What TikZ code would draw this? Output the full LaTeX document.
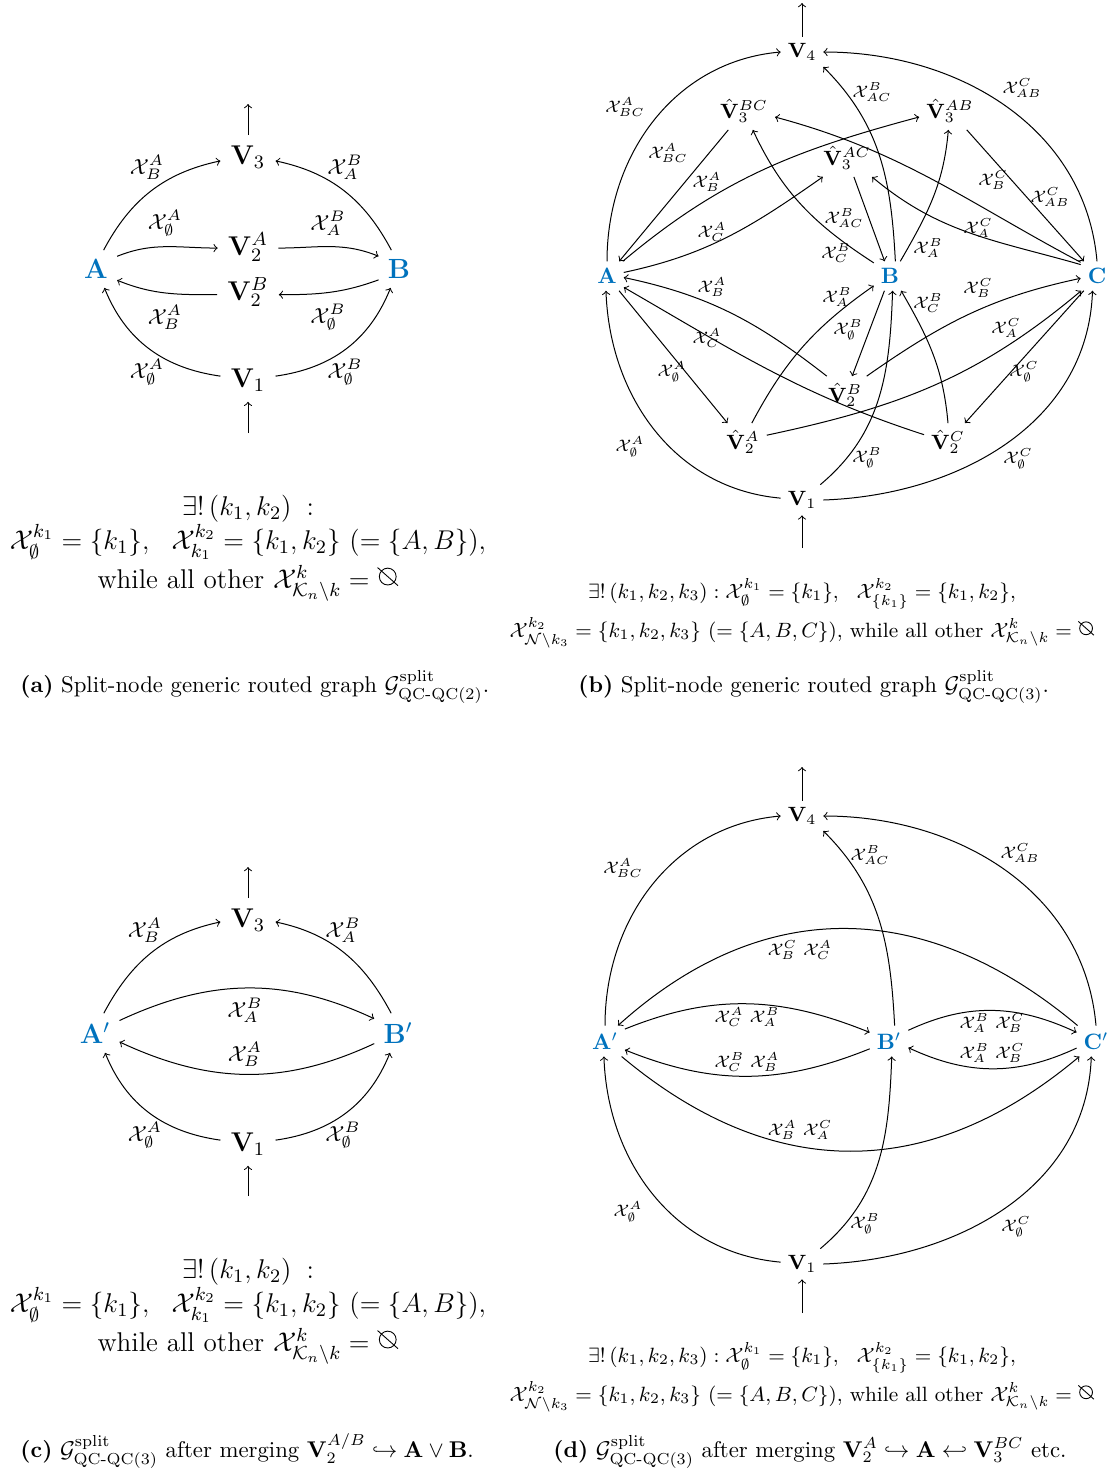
\RequirePackage{fix-cm}
\documentclass[tikz,border=0pt]{standalone}
\usepackage{amsmath}
\usepackage{graphicx}
\definecolor{myblue}{RGB}{0,114,189}
\newcommand{\nul}{\mathord{\tikz[baseline=0pt,x=1ex,y=1ex,line width=0.4pt]{\draw (0.9,0.98) circle (0.72); \draw (0.03,1.75) -- (1.78,0.2);}}}
\newcommand{\X}{\mathcal{X}}
\tikzset{
  arr/.style={->,line width=0.45pt},
  vnodea/.style={inner sep=4.5pt,font=\fontsize{12.2}{14}\selectfont},
  bluea/.style={inner sep=4pt,text=myblue,font=\fontsize{12.5}{14}\selectfont},
  laba/.style={inner sep=0pt,font=\fontsize{9.8}{12}\selectfont},
  vnodeb/.style={inner sep=3pt,font=\fontsize{9.3}{11}\selectfont},
  blueb/.style={inner sep=3pt,text=myblue,font=\fontsize{10}{12}\selectfont},
  labb/.style={inner sep=0pt,font=\fontsize{7.5}{9}\selectfont},
  frma/.style={inner sep=0pt,anchor=base,font=\fontsize{12.2}{14}\selectfont},
  frmb/.style={inner sep=0pt,anchor=base,font=\fontsize{9.3}{11}\selectfont},
  capt/.style={inner sep=0pt,anchor=base west,font=\fontsize{10.25}{12}\selectfont}
}
\begin{document}
\begin{tikzpicture}[x=0.45pt,y=0.45pt]
\useasboundingbox (0,0) rectangle (1110,-1475);

% ================= Panel (a) =================
\node[vnodea] (aV3) at (248,-157) {$\mathbf{V}_3$};
\node[vnodea] (aV2A) at (248,-247) {$\mathbf{V}_2^A$};
\node[vnodea] (aV2B) at (248,-292) {$\mathbf{V}_2^B$};
\node[bluea] (aA) at (96,-269) {$\mathbf{A}$};
\node[bluea] (aB) at (399,-269) {$\mathbf{B}$};
\node[vnodea] (aV1) at (248,-380) {$\mathbf{V}_1$};
\coordinate (aTop) at (248,-104);
\coordinate (aBot) at (248,-433);
\draw[arr] (aV3) -- (aTop);
\draw[arr] (aBot) -- (aV1);
\draw[arr] (aA.68) to[out=62,in=192] (aV3.188);
\draw[arr] (aB.112) to[out=118,in=-12] (aV3.-8);
\draw[arr] (aA.31) to[out=22,in=180] (aV2A.182);
\draw[arr] (aV2A.-2) to[out=0,in=158] (aB.148);
\draw[arr] (aB.208) to[out=200,in=0] (aV2B.-5);
\draw[arr] (aV2B.185) to[out=180,in=-22] (aA.-28);
\draw[arr] (aV1.172) to[out=172,in=-68] (aA.-66);
\draw[arr] (aV1.8) to[out=8,in=248] (aB.246);
\node[laba] (la1) at (147,-167) {$\X^A_B$};
\node[laba] (la2) at (345,-167) {$\X^B_A$};
\node[laba] (la3) at (165,-223) {$\X^A_\emptyset$};
\node[laba] (la4) at (328,-223) {$\X^B_A$};
\node[laba] (la5) at (165,-317) {$\X^A_B$};
\node[laba] (la6) at (328,-317) {$\X^B_\emptyset$};
\node[laba] (la7) at (147,-372) {$\X^A_\emptyset$};
\node[laba] (la8) at (345,-372) {$\X^B_\emptyset$};
\node[frma] (fa1) at (248,-515) {$\exists!\,(k_1,k_2)\;:$};
\node[frma] (fa2) at (248,-549) {$\X_{\emptyset}^{k_1}=\{k_1\},\ \ \X_{k_1}^{k_2}=\{k_1,k_2\}\ (=\{A,B\}),$};
\node[frma] (fa3) at (248,-588) {while all other $\X^k_{\mathcal{K}_n\setminus k}=\nul$};
\node[capt] (capa) at (20,-692) {\textbf{(a)} Split-node generic routed graph $\mathcal{G}^{\mathrm{split}}_{\text{QC-QC(2)}}$.};

% ================= Panel (c) =================
\node[vnodea] (cV3) at (248,-920) {$\mathbf{V}_3$};
\node[bluea] (cA) at (95,-1033) {$\mathbf{A}'$};
\node[bluea] (cB) at (398,-1033) {$\mathbf{B}'$};
\node[vnodea] (cV1) at (248,-1144) {$\mathbf{V}_1$};
\coordinate (cTop) at (248,-867);
\coordinate (cBot) at (248,-1196);
\draw[arr] (cV3) -- (cTop);
\draw[arr] (cBot) -- (cV1);
\draw[arr] (cA.66) to[out=62,in=192] (cV3.184);
\draw[arr] (cB.109) to[out=118,in=-12] (cV3.-4);
\draw[arr] (cA.27) to[out=25,in=155] (cB.149);
\draw[arr] (cB.204) to[out=205,in=-25] (cA.-20);
\draw[arr] (cV1.172) to[out=172,in=-68] (cA.-63);
\draw[arr] (cV1.8) to[out=8,in=248] (cB.248);
\node[laba] (lc1) at (145,-930) {$\X^A_B$};
\node[laba] (lc2) at (343,-930) {$\X^B_A$};
\node[laba] (lc3) at (245,-1010) {$\X^B_A$};
\node[laba] (lc4) at (245,-1054) {$\X^A_B$};
\node[laba] (lc5) at (145,-1135) {$\X^A_\emptyset$};
\node[laba] (lc6) at (343,-1135) {$\X^B_\emptyset$};
\node[frma] (fc1) at (248,-1278) {$\exists!\,(k_1,k_2)\;:$};
\node[frma] (fc2) at (248,-1312) {$\X_{\emptyset}^{k_1}=\{k_1\},\ \ \X_{k_1}^{k_2}=\{k_1,k_2\}\ (=\{A,B\}),$};
\node[frma] (fc3) at (248,-1351) {while all other $\X^k_{\mathcal{K}_n\setminus k}=\nul$};
\node[capt] (capc) at (20,-1457) {\textbf{(c)} $\mathcal{G}^{\mathrm{split}}_{\text{QC-QC(3)}}$ after merging $\mathbf{V}_2^{A/B}\hookrightarrow\mathbf{A}\vee\mathbf{B}$.};

% ================= Panel (b) =================
\node[vnodeb] (bV4) at (802,-52) {$\mathbf{V}_4$};
\node[vnodeb] (bV3BC) at (744,-111) {$\hat{\mathbf{V}}_3^{BC}$};
\node[vnodeb] (bV3AB) at (950,-111) {$\hat{\mathbf{V}}_3^{AB}$};
\node[vnodeb] (bV3AC) at (847,-158) {$\hat{\mathbf{V}}_3^{AC}$};
\node[blueb] (bA) at (607,-276) {$\mathbf{A}$};
\node[blueb] (bB) at (890,-276) {$\mathbf{B}$};
\node[blueb] (bC) at (1097,-276) {$\mathbf{C}$};
\node[vnodeb] (bV2B) at (845,-395) {$\hat{\mathbf{V}}_2^{B}$};
\node[vnodeb] (bV2A) at (743,-442) {$\hat{\mathbf{V}}_2^{A}$};
\node[vnodeb] (bV2C) at (948,-442) {$\hat{\mathbf{V}}_2^{C}$};
\node[vnodeb] (bV1) at (802,-500) {$\mathbf{V}_1$};
\coordinate (bTop) at (802,-3);
\coordinate (bBot) at (802,-548);
\draw[arr] (bV4) -- (bTop);
\draw[arr] (bBot) -- (bV1);
\draw[arr] (bA.north) to[out=90,in=185] (bV4.west);
\draw[arr] (bC.north) to[out=95,in=0] (bV4.east);
\draw[arr] (bB.70) to[out=93,in=-45] (bV4.-35);
\draw[arr] (bV3BC) -- (bA);
\draw[arr] (bA.43) to[out=40,in=195] (bV3AB.191);
\draw[arr] (bA.12) to[out=12,in=215] (bV3AC.218);
\draw[arr] (bB.141) to[out=147,in=295] (bV3BC.295);
\draw[arr] (bV3AC) -- (bB);
\draw[arr] (bB.55) to[out=60,in=265] (bV3AB.265);
\draw[arr] (bC.145) to[out=164,in=320] (bV3AC.-37);
\draw[arr] (bC.140) to[out=152,in=345] (bV3BC.-11);
\draw[arr] (bV3AB) -- (bC);
\draw[arr] (bV2B.134) to[out=142,in=-12] (bA.-5);
\draw[arr] (bV2C.163) to[out=162,in=-30] (bA.-34);
\draw[arr] (bA) -- (bV2A);
\draw[arr] (bV2A.65) to[out=62,in=215] (bB.211);
\draw[arr] (bB) -- (bV2B);
\draw[arr] (bV2B.41) to[out=35,in=192] (bC.188);
\draw[arr] (bV2A.16) to[out=12,in=220] (bC.223);
\draw[arr] (bC) -- (bV2C);
\draw[arr] (bV2C.90) to[out=95,in=-60] (bB.-53);
\draw[arr] (bV1.175) to[out=175,in=-88] (bA.266);
\draw[arr] (bV1.40) to[out=40,in=-92] (bB.-80);
\draw[arr] (bV1.0) to[out=2,in=-92] (bC.253);
\node[labb] (lb1) at (625,-107) {$\X^A_{BC}$};
\node[labb] (lb2) at (1022,-88) {$\X^C_{AB}$};
\node[labb] (lb3) at (872,-92) {$\X^B_{AC}$};
\node[labb] (lb4) at (668,-153) {$\X^A_{BC}$};
\node[labb] (lb5) at (707,-182) {$\X^A_B$};
\node[labb] (lb6) at (712,-232) {$\X^A_C$};
\node[labb] (lb7) at (844,-218) {$\X^B_{AC}$};
\node[labb] (lb8) at (836,-253) {$\X^B_C$};
\node[labb] (lb9) at (928,-248) {$\X^B_A$};
\node[labb] (lb10) at (978,-228) {$\X^C_A$};
\node[labb] (lb11) at (993,-180) {$\X^C_B$};
\node[labb] (lb12) at (1050,-197) {$\X^C_{AB}$};
\node[labb] (lb13) at (712,-287) {$\X^A_B$};
\node[labb] (lb14) at (837,-297) {$\X^B_A$};
\node[labb] (lb15) at (978,-288) {$\X^C_B$};
\node[labb] (lb16) at (928,-303) {$\X^B_C$};
\node[labb] (lb17) at (707,-338) {$\X^A_C$};
\node[labb] (lb18) at (848,-330) {$\X^B_\emptyset$};
\node[labb] (lb19) at (1006,-328) {$\X^C_A$};
\node[labb] (lb20) at (672,-372) {$\X^A_\emptyset$};
\node[labb] (lb21) at (1024,-372) {$\X^C_\emptyset$};
\node[labb] (lb22) at (630,-447) {$\X^A_\emptyset$};
\node[labb] (lb23) at (867,-458) {$\X^B_\emptyset$};
\node[labb] (lb24) at (1018,-459) {$\X^C_\emptyset$};
\node[frmb] (fb1) at (802,-598) {$\exists!\,(k_1,k_2,k_3) : \X_{\emptyset}^{k_1}=\{k_1\},\ \ \X_{\{k_1\}}^{k_2}=\{k_1,k_2\},$};
\node[frmb] (fb2) at (802,-637) {$\X_{\mathcal{N}\setminus k_3}^{k_2}=\{k_1,k_2,k_3\}\ (=\{A,B,C\})$, while all other $\X^k_{\mathcal{K}_n\setminus k}=\nul$};
\node[capt] (capb) at (578,-692) {\textbf{(b)} Split-node generic routed graph $\mathcal{G}^{\mathrm{split}}_{\text{QC-QC(3)}}$.};

% ================= Panel (d) =================
\node[vnodeb] (dV4) at (802,-816) {$\mathbf{V}_4$};
\node[blueb] (dA) at (605,-1041) {$\mathbf{A}'$};
\node[blueb] (dB) at (889,-1041) {$\mathbf{B}'$};
\node[blueb] (dC) at (1096,-1041) {$\mathbf{C}'$};
\node[vnodeb] (dV1) at (802,-1264) {$\mathbf{V}_1$};
\coordinate (dTop) at (802,-767);
\coordinate (dBot) at (802,-1313);
\draw[arr] (dV4) -- (dTop);
\draw[arr] (dBot) -- (dV1);
\draw[arr] (dA.north) to[out=90,in=185] (dV4.west);
\draw[arr] (dC.north) to[out=95,in=0] (dV4.east);
\draw[arr] (dB.70) to[out=93,in=-45] (dV4.-35);
\draw[arr] (dC.140) to[out=140,in=42,looseness=1.1] (dA.50);
\draw[arr] (dA.-43) to[out=-40,in=220,looseness=1.1] (dC.223);
\draw[arr] (dA.31) to[out=22,in=158] (dB.156);
\draw[arr] (dB.202) to[out=202,in=-22] (dA.-24);
\draw[arr] (dB.29) to[out=25,in=155] (dC.156);
\draw[arr] (dC.200) to[out=205,in=-25] (dB.-19);
\draw[arr] (dV1.175) to[out=175,in=-88] (dA.266);
\draw[arr] (dV1.40) to[out=40,in=-92] (dB.-80);
\draw[arr] (dV1.0) to[out=2,in=-92] (dC.253);
\node[labb] (ld1) at (623,-868) {$\X^A_{BC}$};
\node[labb] (ld2) at (1020,-853) {$\X^C_{AB}$};
\node[labb] (ld3) at (870,-855) {$\X^B_{AC}$};
\node[labb] (ld4) at (800,-950) {$\X^C_B\ \X^A_C$};
\node[labb] (ld5) at (747,-1017) {$\X^A_C\ \X^B_A$};
\node[labb] (ld6) at (992,-1023) {$\X^B_A\ \X^C_B$};
\node[labb] (ld7) at (992,-1053) {$\X^B_A\ \X^C_B$};
\node[labb] (ld8) at (747,-1062) {$\X^B_C\ \X^A_B$};
\node[labb] (ld9) at (800,-1130) {$\X^A_B\ \X^C_A$};
\node[labb] (ld10) at (628,-1212) {$\X^A_\emptyset$};
\node[labb] (ld11) at (865,-1224) {$\X^B_\emptyset$};
\node[labb] (ld12) at (1016,-1227) {$\X^C_\emptyset$};
\node[frmb] (fd1) at (802,-1362) {$\exists!\,(k_1,k_2,k_3) : \X_{\emptyset}^{k_1}=\{k_1\},\ \ \X_{\{k_1\}}^{k_2}=\{k_1,k_2\},$};
\node[frmb] (fd2) at (802,-1401) {$\X_{\mathcal{N}\setminus k_3}^{k_2}=\{k_1,k_2,k_3\}\ (=\{A,B,C\})$, while all other $\X^k_{\mathcal{K}_n\setminus k}=\nul$};
\node[capt] (capd) at (553,-1457) {\textbf{(d)} $\mathcal{G}^{\mathrm{split}}_{\text{QC-QC(3)}}$ after merging $\mathbf{V}_2^{A}\hookrightarrow\mathbf{A}\hookleftarrow\mathbf{V}_3^{BC}$ etc.};
\end{tikzpicture}
\end{document}
